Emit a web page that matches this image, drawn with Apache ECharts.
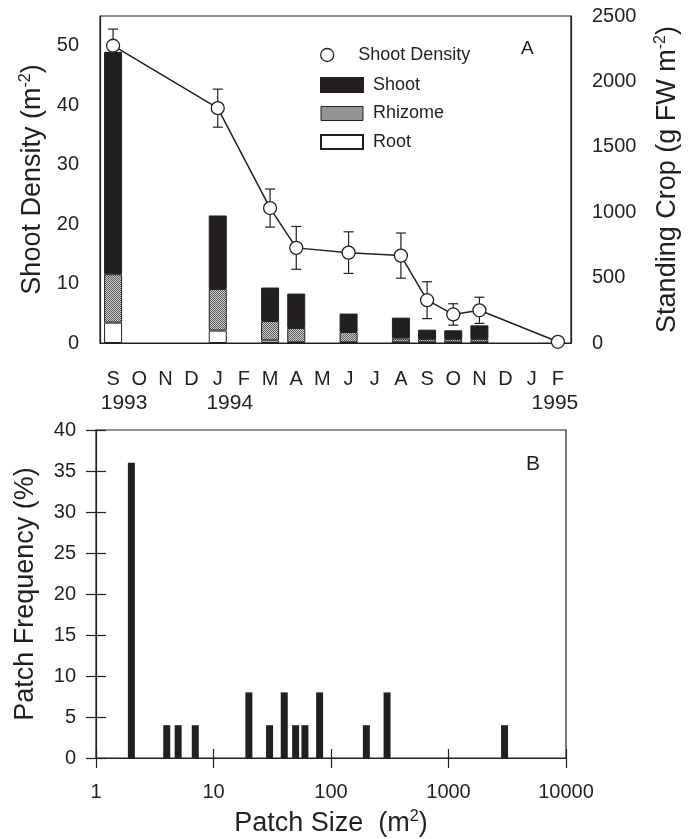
<!DOCTYPE html>
<html>
<head>
<meta charset="utf-8">
<script src="https://cdn.jsdelivr.net/npm/echarts@6/dist/echarts.min.js"></script>
<style>
  html, body { margin: 0; background: #fff; }
  #chart { width: 690px; height: 839px; }
</style>
</head>
<body>
<div id="chart"></div>
<script>
// panel A
var months = ['S', 'O', 'N', 'D', 'J', 'F', 'M', 'A', 'M', 'J', 'J', 'A', 'S', 'O', 'N', 'D', 'J', 'F'];
var yearLabels = { 0: '1993', 4: '1994', 17: '1995' };
var density = [50.0, null, null, null, 39.5, null, 22.7, 16.0, null, 15.2, null, 14.7, 7.2, 4.8, 5.5, null, null, 0.2];
var densityErr = [2.8, null, null, null, 3.2, null, 3.2, 3.6, null, 3.5, null, 3.8, 3.1, 1.8, 2.2, null, null, 0];
var shoot = [1700, null, null, null, 562, null, 256, 263, null, 141, null, 159, 72, 67, 105, null, null, null];
var rhizome = [370, null, null, null, 318, null, 148, 110, null, 79, null, 30, 25, 25, 25, null, null, null];
var root = [156, null, null, null, 95, null, 20, 5, null, 5, null, 5, 5, 5, 5, null, null, null];
var densityTicks = [0, 10, 20, 30, 40, 50];

// panel B
var patchSize = [2, 4, 5, 7, 20, 30, 40, 50, 60, 80, 200, 300, 3000];
var patchFreq = [36, 4, 4, 4, 8, 4, 8, 4, 4, 8, 4, 8, 4];

var FONT = '"Liberation Sans", Arial, sans-serif';
var INK = '#231f20';

// stippled grey for rhizome
var pat = document.createElement('canvas');
pat.width = 2; pat.height = 2;
var pc = pat.getContext('2d');
pc.fillStyle = '#cfcfcf'; pc.fillRect(0, 0, 2, 2);
pc.fillStyle = '#5a5a5a'; pc.fillRect(0, 0, 1, 1); pc.fillRect(1, 1, 1, 1);
var rhizomeFill = { image: pat, repeat: 'repeat' };

var errData = [];
density.forEach(function (v, i) {
  if (v != null && densityErr[i]) errData.push([i, v, densityErr[i]]);
});
var patchData = patchSize.map(function (s, i) { return [s, patchFreq[i]]; });

var myChart = echarts.init(document.getElementById('chart'));

var tickLine = { color: INK, width: 1.2 };
var axisLine = { show: true, lineStyle: { color: INK, width: 1.2 } };
var plain = function (v) { return String(Math.round(v)); };
var labelStyle = { color: INK, fontSize: 20, fontFamily: FONT, formatter: plain };
var nameRich = {
  a: { fontSize: 27, lineHeight: 30, fontFamily: FONT, color: INK },
  s: { fontSize: 16, lineHeight: 16, fontFamily: FONT, color: INK, verticalAlign: 'top' }
};

var option = {
  backgroundColor: '#fff',
  animation: false,
  textStyle: { fontFamily: FONT },
  title: [
    { text: 'A', left: 521, top: 39, padding: 0, textStyle: { fontSize: 19, fontWeight: 'normal', color: INK, fontFamily: FONT } },
    { text: 'B', left: 526, top: 454, padding: 0, textStyle: { fontSize: 21, fontWeight: 'normal', color: INK, fontFamily: FONT } }
  ],
  legend: [
    {
      left: 320, top: 46, orient: 'vertical', itemWidth: 42, itemHeight: 13, padding: 0,
      data: [{ name: 'Shoot Density', icon: 'circle', itemStyle: { color: '#fff', borderColor: INK, borderWidth: 1.3 } }],
      textStyle: { fontSize: 18, color: INK, fontFamily: FONT, padding: [0, 0, 0, 5] }
    },
    {
      left: 320, top: 76, orient: 'vertical', itemWidth: 42, itemHeight: 14, itemGap: 10.5, padding: 0,
      data: [
        { name: 'Shoot', icon: 'rect' },
        { name: 'Rhizome', icon: 'rect', itemStyle: { color: rhizomeFill, borderColor: INK, borderWidth: 1 } },
        { name: 'Root', icon: 'rect' }
      ],
      textStyle: { fontSize: 18, color: INK, fontFamily: FONT, padding: [0, 0, 0, 5] }
    }
  ],
  grid: [
    { left: 100, top: 16, width: 471, height: 327, show: true, borderColor: INK, borderWidth: 1.2 },
    { left: 96, top: 430, width: 470, height: 328, show: true, borderColor: INK, borderWidth: 1.2 }
  ],
  xAxis: [
    {
      gridIndex: 0, type: 'category', data: months, position: 'bottom', boundaryGap: true,
      axisLine: axisLine,
      axisTick: { alignWithLabel: true, length: 10, lineStyle: tickLine },
      axisLabel: {
        interval: 0, margin: 24, color: INK, fontFamily: FONT,
        formatter: function (v, i) {
          var s = '{m|' + v + '}';
          if (i === 0) s += '\n{y1|' + yearLabels[0] + '}';
          else if (i === 4) s += '\n{y2|' + yearLabels[4] + '}';
          else if (i === 17) s += '\n{y3|' + yearLabels[17] + '}';
          return s;
        },
        rich: {
          m: { fontSize: 20, lineHeight: 24, fontFamily: FONT, color: INK },
          y1: { fontSize: 21, lineHeight: 24, fontFamily: FONT, color: INK, padding: [0, 0, 0, 22] },
          y2: { fontSize: 21, lineHeight: 24, fontFamily: FONT, color: INK, padding: [0, 0, 0, 24] },
          y3: { fontSize: 21, lineHeight: 24, fontFamily: FONT, color: INK, padding: [0, 6, 0, 0] }
        }
      },
      splitLine: { show: false }
    },
    {
      gridIndex: 0, type: 'category', data: months, position: 'bottom', boundaryGap: true,
      axisLine: { show: false },
      axisTick: { alignWithLabel: true, inside: true, length: 8, lineStyle: tickLine },
      axisLabel: { show: false }, splitLine: { show: false }
    },
    {
      gridIndex: 1, type: 'log', logBase: 10, min: 1, max: 10000, position: 'bottom',
      axisLine: axisLine,
      axisTick: { length: 10, lineStyle: tickLine },
      axisLabel: { margin: 24, color: INK, fontSize: 20, fontFamily: FONT, formatter: plain },
      splitLine: { show: false }, minorTick: { show: false },
      name: '{a|Patch Size  (m}{s|2}{a|)}', nameLocation: 'middle', nameGap: 51,
      nameTextStyle: { rich: nameRich }
    },
    {
      gridIndex: 1, type: 'log', logBase: 10, min: 1, max: 10000, position: 'bottom',
      axisLine: { show: false },
      axisTick: { inside: true, length: 9, lineStyle: tickLine },
      axisLabel: { show: false }, splitLine: { show: false }
    }
  ],
  yAxis: [
    {
      gridIndex: 0, type: 'value', min: 0, max: 55, position: 'left',
      axisLine: axisLine,
      axisTick: { length: 10, lineStyle: tickLine, customValues: densityTicks },
      axisLabel: Object.assign({ margin: 21, customValues: densityTicks }, labelStyle),
      splitLine: { show: false },
      name: '{a|Shoot Density (m}{s|-2}{a|)}', nameLocation: 'middle', nameGap: 52,
      nameTextStyle: { rich: nameRich }
    },
    {
      gridIndex: 0, type: 'value', min: 0, max: 2500, interval: 500, position: 'right',
      axisLine: axisLine,
      axisTick: { length: 10, lineStyle: tickLine },
      axisLabel: Object.assign({ margin: 21 }, labelStyle),
      splitLine: { show: false },
      name: '{a|Standing Crop (g FW m}{s|-2}{a|)}', nameLocation: 'middle', nameGap: 82,
      nameTextStyle: { rich: nameRich }
    },
    {
      gridIndex: 0, type: 'value', min: 0, max: 55, position: 'left',
      axisLine: { show: false },
      axisTick: { inside: true, length: 3, lineStyle: tickLine, customValues: densityTicks },
      axisLabel: { show: false }, splitLine: { show: false }
    },
    {
      gridIndex: 0, type: 'value', min: 0, max: 2500, interval: 500, position: 'right',
      axisLine: { show: false },
      axisTick: { inside: true, length: 10, lineStyle: tickLine },
      axisLabel: { show: false }, splitLine: { show: false }
    },
    {
      gridIndex: 1, type: 'value', min: 0, max: 40, interval: 5, position: 'left',
      axisLine: axisLine,
      axisTick: { length: 10, lineStyle: tickLine },
      axisLabel: Object.assign({ margin: 20 }, labelStyle),
      splitLine: { show: false },
      name: 'Patch Frequency (%)', nameLocation: 'middle', nameGap: 55,
      nameTextStyle: { fontSize: 27, lineHeight: 30, color: INK, fontFamily: FONT }
    },
    {
      gridIndex: 1, type: 'value', min: 0, max: 40, interval: 5, position: 'left',
      axisLine: { show: false },
      axisTick: { inside: true, length: 10, lineStyle: tickLine },
      axisLabel: { show: false }, splitLine: { show: false }
    }
  ],
  series: [
    {
      name: 'Root', type: 'bar', stack: 'crop', xAxisIndex: 0, yAxisIndex: 1, barWidth: 18, z: 2,
      itemStyle: { color: '#fff', borderColor: INK, borderWidth: 1 },
      data: root
    },
    {
      name: 'Rhizome', type: 'bar', stack: 'crop', xAxisIndex: 0, yAxisIndex: 1, barWidth: 18, z: 2,
      itemStyle: { color: rhizomeFill, borderColor: INK, borderWidth: 1 },
      data: rhizome
    },
    {
      name: 'Shoot', type: 'bar', stack: 'crop', xAxisIndex: 0, yAxisIndex: 1, barWidth: 18, z: 2,
      itemStyle: { color: INK, borderColor: INK, borderWidth: 1 },
      data: shoot
    },
    {
      name: 'err', type: 'custom', xAxisIndex: 0, yAxisIndex: 0, z: 3,
      renderItem: function (params, api) {
        var x = api.value(0), v = api.value(1), e = api.value(2);
        var top = api.coord([x, v + e]);
        var bot = api.coord([x, v - e]);
        var w = 5;
        var st = { stroke: INK, lineWidth: 1.2 };
        return {
          type: 'group',
          children: [
            { type: 'line', shape: { x1: top[0], y1: top[1], x2: bot[0], y2: bot[1] }, style: st },
            { type: 'line', shape: { x1: top[0] - w, y1: top[1], x2: top[0] + w, y2: top[1] }, style: st },
            { type: 'line', shape: { x1: bot[0] - w, y1: bot[1], x2: bot[0] + w, y2: bot[1] }, style: st }
          ]
        };
      },
      data: errData
    },
    {
      name: 'Shoot Density', type: 'line', xAxisIndex: 0, yAxisIndex: 0, z: 4,
      connectNulls: true, symbol: 'circle', symbolSize: 13,
      lineStyle: { color: INK, width: 1.5 },
      itemStyle: { color: '#fff', borderColor: INK, borderWidth: 1.3 },
      data: density
    },
    {
      name: 'Patch Frequency', type: 'bar', xAxisIndex: 2, yAxisIndex: 4, barWidth: 7,
      itemStyle: { color: INK },
      data: patchData
    }
  ]
};

myChart.setOption(option);
window.addEventListener('resize', function () {
  myChart.resize();
});
</script>
</body>
</html>
